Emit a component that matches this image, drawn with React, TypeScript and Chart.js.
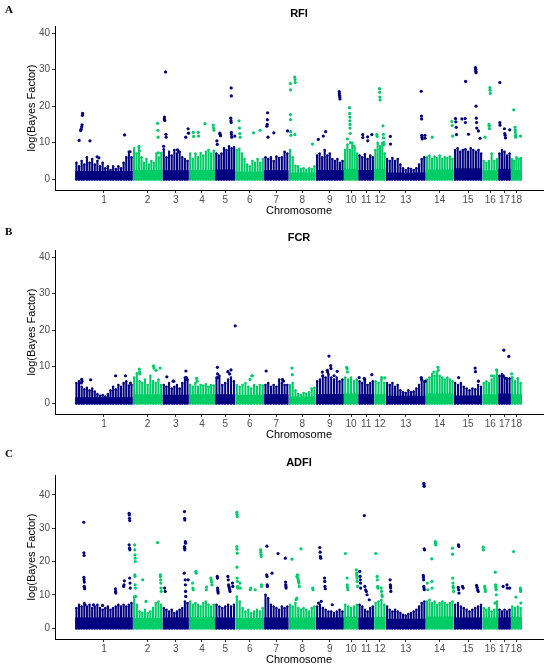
import { useEffect, useRef } from 'react';
import { Chart, registerables } from 'chart.js';

Chart.register(...registerables);

// Manhattan plots (log Bayes factor by SNP position) for RFI, FCR and ADFI.
// Each chromosome's dense low band is drawn as a solid core plus a comb of
// spike heights; the SNPs standing clear of it are listed
// one by one.

const FONT = '"Liberation Sans", Arial, sans-serif';
const BLUE = '#000080';
const GREEN = '#00CD66';

const chromosomes = ['1', '2', '3', '4', '5', '6', '7', '8', '9', '10', '11', '12', '13', '14', '15', '16', '17', '18'];
const chromLengthsMb = [315, 162, 144, 143, 111, 157, 134, 148, 153, 79, 87, 63, 218, 153, 157, 86, 69, 61];
const yTicks = [0, 10, 20, 30, 40];

// height of the solid part of the band, per chromosome
const rfiCore = [2.2, 2.5, 2.4, 2.5, 2.6, 2.1, 2.4, 1.8, 2.5, 2.8, 2.5, 2.8, 1.8, 2.6, 3, 2.4, 2.8, 2.5];
// spike tops of the band, evenly spaced along each chromosome
const rfiSpikes = [
  [4.5, 3.5, 5, 4, 6, 4.5, 5.5, 4, 5, 3.5, 4.5, 3, 3.5, 2.5, 3.5, 2.8, 3.5, 3, 4.5, 6, 7.5, 6],
  [8.5, 7, 9, 6, 4.5, 5.5, 4, 5, 4.5, 7, 6, 7.2],
  [8.2, 6, 7.5, 6.5, 8, 7, 7.5, 6, 5.5, 5],
  [7, 5.5, 7, 6, 7.2, 6.5, 7.5, 8, 7, 7.8],
  [7, 6.5, 7, 8.5, 8, 9, 8.5, 8.8],
  [8, 8.3, 7, 5.5, 4, 3.5, 5, 4.5, 5.5, 4.5, 5.5],
  [6, 5.5, 6, 5, 6.2, 5.8, 6, 7.5, 7],
  [8, 6, 3.7, 3.5, 2.8, 3, 2.5, 3, 2.8, 3.5],
  [6.5, 7, 6, 8, 6.5, 7, 5.5, 5, 5.5, 4.5, 5],
  [8, 9.5, 8, 10, 8.5, 7],
  [6.5, 6, 6.8, 5.5, 6.5, 6],
  [8, 10, 9, 10, 7],
  [5.5, 5, 5.8, 5, 5.5, 4, 3, 2.5, 3, 2.8, 2.5, 3, 4, 5.5, 6],
  [6, 6.5, 5.5, 6.2, 5.8, 6.5, 5.5, 6, 5.8, 6.2, 5.5],
  [8, 8.5, 7.5, 8, 8.2, 7.5, 8.5, 8, 7.5, 8, 7],
  [5, 4.5, 5, 7, 5, 5.5],
  [7, 8, 7.5, 6.5, 7],
  [5.5, 5, 6, 5.5, 5.8],
];

// [chromosome, position (Mb), log(Bayes Factor)]
const rfiHits = [
  [1, 22, 10.6], [1, 30, 13.3], [1, 33, 13.7], [1, 36, 14.3], [1, 38, 14.9], [1, 40, 17.5], [1, 41, 18], [1, 81, 10.5], [1, 270, 12.1], [1, 120, 6.1], [1, 130, 5.8], [1, 300, 7.5],
  [2, 34, 8.9], [2, 36, 7.8], [2, 135, 15.3], [2, 137, 13.4], [2, 138, 11.5], [2, 140, 7.2],
  [3, 6, 9], [3, 10, 16.5], [3, 11, 17], [3, 12, 16.1], [3, 17, 29.4], [3, 19, 12.3], [3, 20, 11.5], [3, 82, 8], [3, 88, 7.5], [3, 127, 11.5], [3, 140, 13.8], [3, 142, 12.6],
  [4, 24, 12.8], [4, 26, 11.7], [4, 51, 12.8], [4, 53, 11.8], [4, 88, 15.2], [4, 133, 14.8], [4, 135, 14], [4, 137, 13.4],
  [5, 10, 10.5], [5, 12, 9.5], [5, 26, 12.6], [5, 28, 12.2], [5, 30, 11.9], [5, 86, 16.7], [5, 87, 16], [5, 88, 15.5], [5, 89, 12.8], [5, 90, 12.2], [5, 91, 11.5], [5, 88, 25], [5, 89, 22.8], [5, 108, 11.8],
  [6, 20, 16], [6, 22, 14], [6, 24, 12.5], [6, 26, 11.5], [6, 99, 12.7], [6, 135, 13.4],
  [7, 15, 14.5], [7, 17, 15], [7, 18, 16.3], [7, 19, 18.2], [7, 21, 11.5], [7, 53, 12.7], [7, 128, 13.2],
  [8, 9, 26.2], [8, 10, 24.5], [8, 9, 17.7], [8, 10, 16.3], [8, 11, 13], [8, 12, 12], [8, 33, 28], [8, 35, 27.3], [8, 36, 26.5], [8, 34, 12.2], [8, 130, 9.6],
  [9, 14, 10.9], [9, 41, 11.8], [9, 54, 13], [9, 128, 24], [9, 129, 23.5], [9, 130, 23], [9, 131, 22.5], [9, 132, 22],
  [10, 19, 11], [10, 31, 19.6], [10, 32, 18], [10, 33, 17], [10, 33, 16], [10, 34, 15], [10, 34, 14], [10, 35, 12.5], [10, 36, 10], [10, 56, 9],
  [11, 24, 12.2], [11, 25, 11.4], [11, 51, 11.6], [11, 52, 10.5], [11, 74, 12.2],
  [12, 14, 12.2], [12, 16, 11.7], [12, 29, 24.8], [12, 30, 23.8], [12, 31, 22.5], [12, 32, 21.7], [12, 48, 14.6], [12, 50, 12.3], [12, 51, 11.3], [12, 52, 10], [12, 53, 9.5],
  [13, 25, 11.7], [13, 26, 9.6], [13, 194, 24.1], [13, 195, 17.3], [13, 196, 16.5], [13, 197, 12], [13, 198, 11.5], [13, 199, 11], [13, 214, 12], [13, 215, 11.2],
  [14, 36, 11.5], [14, 143, 15.8], [14, 145, 14.7], [14, 147, 11.8],
  [15, 10, 16.6], [15, 12, 15.7], [15, 14, 14.2], [15, 15, 12.2], [15, 45, 16.5], [15, 65, 26.8], [15, 63, 16.6], [15, 64, 15.5], [15, 81, 12.3], [15, 119, 30.6], [15, 120, 30.1], [15, 121, 29.6], [15, 122, 29.2], [15, 122, 20], [15, 124, 16.7], [15, 125, 15.5], [15, 126, 14], [15, 135, 13.2], [15, 144, 11.2],
  [16, 14, 11.5], [16, 36, 15], [16, 37, 14.5], [16, 38, 13.8], [16, 41, 25.1], [16, 42, 24.4], [16, 43, 23.5],
  [17, 9, 26.5], [17, 9, 15.5], [17, 10, 14.8], [17, 34, 13.8], [17, 36, 12.5], [17, 38, 12], [17, 40, 11.3], [17, 63, 13.5],
  [18, 16, 19], [18, 23, 14.2], [18, 24, 13.5], [18, 25, 12.8], [18, 26, 12], [18, 27, 11.5], [18, 53, 11.8],
];

const fcrCore = [1.6, 2.4, 2.3, 2.4, 2.4, 2.3, 2.4, 1.8, 2.5, 2.6, 2.4, 2.4, 2, 2.6, 2.1, 2.4, 2.6, 2.4];
const fcrSpikes = [
  [5.5, 6, 4.5, 3.8, 4.2, 3.5, 4, 3.2, 2.5, 2, 2.2, 1.8, 2.5, 3.5, 4.5, 3.8, 5, 4.5, 5.5, 6, 4.8, 5],
  [7, 8.2, 6, 5.5, 6.5, 5, 7.5, 6, 5.5, 6.5, 5],
  [5, 4.5, 5.5, 4, 4.5, 5, 4, 5.5, 7, 6.5],
  [5, 4.5, 5.5, 4.5, 5, 4.8, 5.2, 4.5, 5, 4.8],
  [7, 7.5, 5, 5.5, 6.5, 7, 6],
  [5, 4.5, 5, 5.5, 4.5, 4, 5, 4.5, 5, 4.8],
  [5, 5.5, 4.5, 5, 4.5, 6.5, 5.5, 5, 5],
  [5, 5.5, 3.5, 2.5, 2.2, 2.8, 2.5, 3, 4, 4.2],
  [6, 6.5, 7.5, 7, 8, 7, 6.5, 7, 6, 6.5],
  [7, 6.5, 7, 6, 6.5],
  [6, 5.5, 6, 5, 5.5, 6],
  [6, 5.5, 6.5, 5.5],
  [5.5, 5, 5.5, 4.5, 5, 3.5, 3, 2.8, 3.5, 3, 3.2, 4, 5, 6.3, 6],
  [6.5, 7, 8, 7.5, 8.5, 7.5, 7, 6.5, 7, 6.5, 6],
  [5.5, 5, 5.5, 4.5, 4, 3.5, 4, 3.8, 5, 4.5],
  [5.5, 6, 5.5, 6.5, 7.5, 8.5],
  [7.5, 8, 7, 6.5, 6.8],
  [6.5, 6, 6.8, 5.5],
];

const fcrHits = [
  [1, 36, 6.5], [1, 38, 6], [1, 34, 5.5], [1, 85, 6.4], [1, 221, 7.5], [1, 275, 7.5], [1, 302, 5.5],
  [2, 36, 9.3], [2, 37, 8.5], [2, 38, 8], [2, 113, 10.2], [2, 115, 9.6], [2, 126, 9], [2, 149, 9.6],
  [3, 24, 7.2], [3, 58, 6], [3, 62, 6], [3, 128, 8.8], [3, 130, 7], [3, 132, 6.5],
  [4, 42, 6.8], [4, 45, 6],
  [5, 13, 9.8], [5, 14, 8], [5, 15, 7], [5, 70, 8.6], [5, 80, 8], [5, 87, 9.1], [5, 110, 21.2],
  [6, 80, 6.5], [6, 90, 7.5], [6, 93, 7.5],
  [7, 11, 8.8], [7, 100, 6.5], [7, 105, 6],
  [8, 18, 9.6], [8, 20, 7.8],
  [9, 36, 8.5], [9, 38, 7.5], [9, 63, 9], [9, 65, 8.5], [9, 72, 12.9], [9, 81, 10.3], [9, 83, 9.5], [9, 117, 8.7], [9, 100, 7.5],
  [10, 16, 9.8], [10, 18, 9.4], [10, 20, 8.5],
  [11, 5, 7], [11, 33, 6.8], [11, 35, 6.5], [11, 74, 7.8],
  [12, 41, 7], [12, 58, 6.9],
  [13, 194, 7], [13, 196, 6.5], [13, 216, 6],
  [14, 45, 8.5], [14, 67, 9.8], [14, 69, 9],
  [15, 27, 7], [15, 117, 9.6], [15, 119, 8.6], [15, 135, 6],
  [16, 50, 7.5], [16, 77, 9.1],
  [17, 31, 14.5], [17, 58, 12.8], [17, 28, 7.5], [17, 45, 6.8],
  [18, 5, 8], [18, 7, 7],
];

const adfiCore = [3.2, 3, 3.2, 3.3, 3.2, 3, 3.2, 3.2, 3.2, 3.3, 3.2, 3.3, 2.8, 3.5, 3.2, 3.2, 3.2, 3.3];
const adfiSpikes = [
  [6, 7, 6.5, 7.5, 6.5, 7, 6, 6.5, 7, 6, 5.5, 6, 6.5, 5.5, 6, 6.5, 7, 6.5, 7, 6.5, 7, 7.5],
  [9.5, 7, 5, 4.5, 5.5, 4.5, 5, 6, 7.5, 8, 7],
  [6, 5.5, 5, 5.5, 4.5, 5, 5.5, 6, 8, 7.5],
  [8, 7, 7.5, 7, 6.5, 7.5, 8, 7, 6.5, 7],
  [7, 6.5, 6, 6.5, 7, 6.5, 7],
  [9.5, 8, 6, 5, 5.5, 4.5, 5, 5.5, 5, 6],
  [10, 9, 7, 6.5, 6, 5.5, 6.5, 6, 6.5],
  [7, 6.5, 7.5, 6, 5.5, 6, 5.5, 5, 6, 6.5],
  [6.5, 7, 6, 5.5, 5, 5, 4.5, 5, 5.5, 5],
  [7, 6.5, 6, 6.5, 7],
  [7, 6.5, 5.5, 5, 6, 6.5],
  [7.5, 8, 8.5, 7],
  [6.5, 5.5, 5, 5.5, 5, 4.5, 4, 3.8, 4.2, 4.5, 5, 5.5, 6.5, 7.5, 8],
  [8, 8.5, 7.5, 8, 7, 7.5, 8, 7.5, 7, 7.5, 8],
  [7, 7.5, 6.5, 6, 5.5, 5, 5.5, 6, 6.5, 7],
  [6, 5.5, 6, 5, 5.5, 8],
  [5.5, 5, 5.5, 5, 5.5],
  [6.5, 6, 6.5, 6],
];

const adfiHits = [
  [1, 47, 31.8], [1, 48, 22.6], [1, 49, 21.8], [1, 48, 15.2], [1, 49, 14.5], [1, 50, 13.8], [1, 50, 12.5], [1, 51, 12], [1, 52, 11.8], [1, 220, 11.8], [1, 221, 11], [1, 222, 10.5], [1, 265, 12.5], [1, 267, 13], [1, 269, 14.2], [1, 295, 34.5], [1, 296, 34], [1, 297, 33], [1, 298, 32.3], [1, 295, 25], [1, 297, 24], [1, 299, 23.5], [1, 298, 15], [1, 300, 13.5], [1, 301, 12], [1, 54, 7], [1, 100, 7], [1, 150, 6.8],
  [2, 10, 25], [2, 11, 23.5], [2, 12, 22], [2, 13, 21], [2, 14, 20], [2, 11, 16], [2, 12, 15.5], [2, 13, 13], [2, 14, 12], [2, 15, 9.5], [2, 54, 14.5], [2, 72, 8], [2, 135, 25.7], [2, 150, 16], [2, 151, 15.5], [2, 152, 14.5], [2, 153, 13.5], [2, 154, 12], [2, 155, 11],
  [3, 12, 12], [3, 15, 11], [3, 120, 35], [3, 121, 33], [3, 122, 32.5], [3, 120, 24.5], [3, 121, 24], [3, 122, 23.5], [3, 125, 26], [3, 126, 25.5], [3, 119, 16.5], [3, 124, 14.5], [3, 125, 13], [3, 126, 11], [3, 127, 9.5], [3, 140, 14.5],
  [4, 20, 13.5], [4, 22, 12], [4, 24, 11.5], [4, 38, 17], [4, 40, 16.5], [4, 95, 11.5], [4, 97, 12.3], [4, 120, 15], [4, 122, 14.5], [4, 124, 13.8], [4, 126, 13],
  [5, 12, 15.5], [5, 13, 15], [5, 14, 12], [5, 15, 11.5], [5, 16, 11], [5, 17, 10.5], [5, 70, 15.5], [5, 72, 14.5], [5, 74, 13], [5, 76, 12.5], [5, 78, 12], [5, 80, 11.5], [5, 82, 11], [5, 95, 13.5], [5, 97, 12.5],
  [6, 8, 34.8], [6, 9, 34.2], [6, 10, 33.5], [6, 8, 24.5], [6, 9, 23.7], [6, 10, 22.5], [6, 9, 18.3], [6, 10, 15], [6, 11, 14], [6, 12, 12.5], [6, 13, 12], [6, 25, 13.5], [6, 27, 12], [6, 81, 11.5], [6, 84, 12], [6, 108, 11.5], [6, 138, 23.5], [6, 139, 22.8], [6, 140, 22.1], [6, 141, 21.5], [6, 142, 13], [6, 143, 12.5],
  [7, 15, 24.6], [7, 14, 16], [7, 16, 15.5], [7, 17, 13], [7, 18, 12.5], [7, 43, 16.5], [7, 76, 22.4], [7, 116, 21], [7, 117, 13.8], [7, 118, 13], [7, 119, 12.5], [7, 120, 12],
  [8, 18, 20.7], [8, 45, 15.5], [8, 48, 16], [8, 50, 15], [8, 52, 14.5], [8, 54, 14], [8, 56, 13.5], [8, 58, 12.5], [8, 67, 23.8], [8, 40, 8.5], [8, 44, 9], [8, 131, 12], [8, 133, 11.5],
  [9, 22, 24.2], [9, 24, 22.8], [9, 25, 21.5], [9, 27, 21], [9, 48, 15], [9, 49, 14], [9, 50, 12.5], [9, 52, 11.8], [9, 15, 7.5], [9, 30, 8], [9, 90, 7],
  [10, 9, 22.4], [10, 18, 15], [10, 19, 13], [10, 20, 12.2], [10, 22, 11.5], [10, 68, 17.5], [10, 70, 16.5], [10, 71, 15.8], [10, 72, 15], [10, 73, 14], [10, 75, 12.5],
  [11, 8, 17], [11, 10, 15.5], [11, 11, 14.5], [11, 12, 13.5], [11, 13, 12], [11, 33, 33.8], [11, 36, 12.5], [11, 40, 11.5], [11, 44, 11], [11, 48, 10], [11, 60, 8.5],
  [12, 9, 22.4], [12, 16, 15.5], [12, 17, 14.5], [12, 19, 12.5], [12, 20, 12], [12, 38, 12], [12, 40, 11], [12, 42, 10], [12, 44, 9.5],
  [13, 24, 14.5], [13, 25, 13], [13, 26, 12.5], [13, 27, 12], [13, 28, 11], [13, 208, 43.5], [13, 209, 43], [13, 210, 42.6], [13, 210, 23.8], [13, 212, 23.5], [13, 205, 15.8], [13, 206, 15.2], [13, 207, 14.5], [13, 208, 12.5], [13, 209, 12], [13, 210, 11.5],
  [14, 9, 13.5], [14, 11, 11.5], [14, 33, 20.8], [14, 34, 14], [14, 35, 12], [14, 53, 26], [14, 54, 25.5], [14, 55, 25], [14, 146, 24], [14, 147, 22.2], [14, 148, 15], [14, 149, 13.5], [14, 150, 12.5], [14, 151, 12], [14, 152, 11],
  [15, 26, 25], [15, 28, 24.5], [15, 25, 12.2], [15, 27, 11.5], [15, 29, 10.5], [15, 48, 12.5], [15, 52, 12], [15, 125, 12.8], [15, 128, 12.2], [15, 131, 11.5], [15, 134, 11],
  [16, 4, 24.3], [16, 5, 23.5], [16, 12, 12.5], [16, 14, 12], [16, 15, 11.5], [16, 16, 11], [16, 70, 16.8], [16, 72, 13], [16, 73, 12.5], [16, 74, 12], [16, 75, 11.5], [16, 76, 10], [16, 68, 7.5],
  [17, 27, 12.5], [17, 48, 13], [17, 50, 12], [17, 63, 12],
  [18, 15, 23], [18, 28, 9.3], [18, 52, 12], [18, 53, 11.5], [18, 54, 11], [18, 55, 7.5],
];

const chromStarts = chromLengthsMb.map((_, i) =>
  chromLengthsMb.slice(0, i).reduce((a, b) => a + b, 0),
);
const genomeMb = chromLengthsMb.reduce((a, b) => a + b, 0);
const chromMids = chromStarts.map((s, i) => s + chromLengthsMb[i] / 2);
const chromColor = (c: number) => (c % 2 === 0 ? BLUE : GREEN); // c is 0-based
const BAND_FLOOR = -0.35; // points sit on 0, so the band reaches just below it

type PanelProps = {
  letter: string;
  title: string;
  core: number[];
  spikes: number[][];
  hits: number[][];
  yMin: number;
  yMax: number;
  top: number;
  height: number;
  areaTop: number;
  areaBottom: number;
};

function ManhattanPanel(props: PanelProps) {
  const { letter, title, core, spikes, hits, yMin, yMax, top, height, areaTop, areaBottom } = props;
  const canvasRef = useRef<HTMLCanvasElement>(null);

  useEffect(() => {
    const canvas = canvasRef.current;
    if (!canvas) return;

    // spike positions: centred in equal slots along each chromosome
    const spikePts: { x: number; v: number; col: string }[] = [];
    spikes.forEach((vals, c) => {
      const slot = chromLengthsMb[c] / vals.length;
      vals.forEach((v, i) => spikePts.push({ x: chromStarts[c] + (i + 0.5) * slot, v, col: chromColor(c) }));
    });

    const hitSet = {
      type: 'line',
      data: hits.map(([c, mb, v]) => ({ x: chromStarts[c - 1] + mb, y: v })),
      showLine: false,
      pointRadius: 1.6,
      pointBorderWidth: 0,
      pointBackgroundColor: hits.map(([c]) => chromColor(c - 1)),
      borderColor: 'transparent',
    };

    const spikeTops = {
      type: 'line',
      data: spikePts.map((p) => ({ x: p.x, y: p.v })),
      showLine: false,
      pointRadius: 1.2,
      pointBorderWidth: 0,
      pointBackgroundColor: spikePts.map((p) => p.col),
      borderColor: 'transparent',
    };

    const spikeBars = {
      type: 'bar',
      data: spikePts.map((p) => ({ x: p.x, y: [BAND_FLOOR, p.v] })),
      backgroundColor: spikePts.map((p) => p.col),
      barThickness: 1.4,
      grouped: false,
      borderWidth: 0,
    };

    const coreSets = core.map((h, c) => ({
      type: 'line',
      data: [
        { x: chromStarts[c], y: h },
        { x: chromStarts[c] + chromLengthsMb[c], y: h },
      ],
      borderWidth: 0,
      borderColor: chromColor(c),
      backgroundColor: chromColor(c),
      pointRadius: 0,
      fill: { value: BAND_FLOOR },
    }));

    const axisLine = { display: true, color: '#000', width: 1 };
    const tickMarks = { display: true, drawOnChartArea: false, drawTicks: true, tickLength: 3, color: '#333' };
    const tickFont = { family: FONT, size: 10 };
    const titleFont = { family: FONT, size: 11 };

    const chart = new Chart(canvas, {
      type: 'line',
      data: { datasets: [hitSet, spikeTops, spikeBars, ...coreSets] as any },
      options: {
        animation: false,
        responsive: false,
        events: [],
        layout: {
          padding: { top: areaTop - top, right: 7, left: 0, bottom: height - (areaBottom - top) - 30 },
        },
        plugins: { legend: { display: false }, tooltip: { enabled: false } },
        scales: {
          x: {
            type: 'linear',
            offset: false,
            min: -genomeMb * 0.045,
            max: genomeMb * 1.047,
            afterFit: (s: any) => { s.height = 30; },
            afterBuildTicks: (s: any) => { s.ticks = chromMids.map((value) => ({ value })); },
            ticks: {
              autoSkip: false,
              maxRotation: 0,
              padding: 1,
              color: '#4d4d4d',
              font: tickFont,
              callback: (_v: any, i: number) => chromosomes[i],
            },
            grid: { ...tickMarks, offset: false },
            border: axisLine,
            title: { display: true, text: 'Chromosome', color: '#000', font: titleFont, padding: { top: 0, bottom: 2 } },
          },
          y: {
            type: 'linear',
            min: yMin,
            max: yMax,
            afterFit: (s: any) => { s.width = 55; },
            afterBuildTicks: (s: any) => { s.ticks = yTicks.map((value) => ({ value })); },
            ticks: { padding: 2, color: '#4d4d4d', font: tickFont },
            grid: tickMarks,
            border: axisLine,
            title: { display: true, text: 'log(Bayes Factor)', color: '#000', font: titleFont, padding: { top: 25, bottom: 0 } },
          },
        },
      } as any,
    });
    return () => chart.destroy();
  }, [core, spikes, hits, yMin, yMax, top, height, areaTop, areaBottom]);

  return (
    <div style={{ position: 'absolute', left: 0, top, width: 550, height }}>
      <canvas ref={canvasRef} width={550} height={height} style={{ display: 'block' }} />
      <div
        style={{
          position: 'absolute', left: 5, top: 3, fontFamily: '"Liberation Serif", "Times New Roman", serif',
          fontWeight: 'bold', fontSize: 11,
        }}
      >
        {letter}
      </div>
      <div
        style={{
          position: 'absolute', left: 55, width: 488, top: areaTop - top - 19, textAlign: 'center',
          fontFamily: FONT, fontWeight: 'bold', fontSize: 11,
        }}
      >
        {title}
      </div>
    </div>
  );
}

export default function App() {
  return (
    <div style={{ position: 'absolute', left: 0, top: 0, width: 550, height: 670, background: '#fff' }}>
      <ManhattanPanel letter="A" title="RFI" core={rfiCore} spikes={rfiSpikes} hits={rfiHits}
        yMin={-3} yMax={42} top={0} height={222} areaTop={26} areaBottom={190} />
      <ManhattanPanel letter="B" title="FCR" core={fcrCore} spikes={fcrSpikes} hits={fcrHits}
        yMin={-3} yMax={42} top={222} height={222} areaTop={250} areaBottom={414} />
      <ManhattanPanel letter="C" title="ADFI" core={adfiCore} spikes={adfiSpikes} hits={adfiHits}
        yMin={-3.3} yMax={46} top={444} height={226} areaTop={475} areaBottom={639} />
    </div>
  );
}
